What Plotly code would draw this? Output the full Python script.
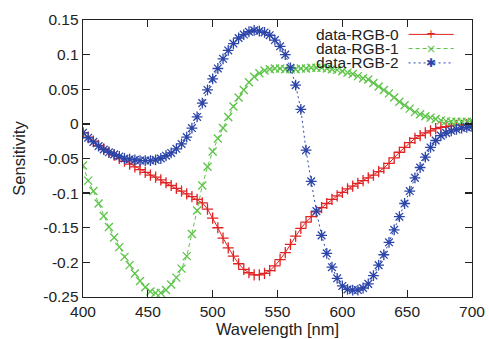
import plotly.graph_objects as go

wavelength = list(range(400, 701, 4))

rgb0 = [-0.013, -0.019, -0.025, -0.031, -0.036, -0.041, -0.045, -0.050, -0.054, -0.058,
        -0.062, -0.066, -0.070, -0.074, -0.077, -0.081, -0.085, -0.089, -0.093, -0.097,
        -0.101, -0.105, -0.109, -0.114, -0.123, -0.136, -0.150, -0.165, -0.179, -0.191,
        -0.202, -0.210, -0.215, -0.218, -0.218, -0.216, -0.212, -0.205, -0.196, -0.186,
        -0.174, -0.162, -0.151, -0.142, -0.134, -0.127, -0.121, -0.115, -0.109, -0.104,
        -0.099, -0.094, -0.090, -0.086, -0.082, -0.078, -0.074, -0.069, -0.064, -0.057,
        -0.049, -0.041, -0.034, -0.027, -0.021, -0.017, -0.013, -0.010, -0.007, -0.005,
        -0.004, -0.003, -0.002, -0.002, -0.001, -0.001]

rgb1 = [-0.060, -0.082, -0.097, -0.115, -0.133, -0.149, -0.164, -0.178, -0.192, -0.204,
        -0.216, -0.227, -0.236, -0.242, -0.244, -0.244, -0.240, -0.232, -0.222, -0.209,
        -0.191, -0.159, -0.125, -0.089, -0.062, -0.040, -0.021, -0.006, 0.010, 0.025,
        0.038, 0.049, 0.060, 0.068, 0.073, 0.077, 0.079, 0.080, 0.080, 0.079,
        0.079, 0.079, 0.080, 0.080, 0.081, 0.081, 0.081, 0.080, 0.079, 0.078,
        0.076, 0.074, 0.072, 0.069, 0.066, 0.064, 0.059, 0.054, 0.049, 0.044,
        0.038, 0.032, 0.027, 0.022, 0.017, 0.014, 0.011, 0.009, 0.007, 0.005,
        0.004, 0.003, 0.003, 0.003, 0.003, 0.003]

rgb2 = [-0.013, -0.020, -0.026, -0.032, -0.037, -0.041, -0.044, -0.047, -0.050, -0.051,
        -0.052, -0.053, -0.053, -0.053, -0.052, -0.050, -0.046, -0.042, -0.036, -0.029,
        -0.019, -0.006, 0.010, 0.030, 0.049, 0.065, 0.080, 0.094, 0.106, 0.116,
        0.124, 0.129, 0.133, 0.135, 0.134, 0.132, 0.128, 0.121, 0.112, 0.100,
        0.081, 0.056, 0.021, -0.038, -0.083, -0.126, -0.161, -0.187, -0.207, -0.223,
        -0.234, -0.239, -0.240, -0.240, -0.237, -0.231, -0.219, -0.204, -0.189, -0.171,
        -0.153, -0.134, -0.115, -0.097, -0.078, -0.063, -0.048, -0.034, -0.024, -0.017,
        -0.013, -0.010, -0.008, -0.006, -0.005, -0.004]

series_names = ["data-RGB-0", "data-RGB-1", "data-RGB-2"]
colors = ["#e02424", "#5cc447", "#2c45a8"]
dashes = ["solid", "4px,3px", "2px,3px"]
symbols = ["cross-thin", "x-thin", "asterisk"]
marker_sizes = [8, 8, 9]
legend_glyphs = ["+", "×", "✱"]

x_ticks = [400, 450, 500, 550, 600, 650, 700]
y_ticks = [0.15, 0.1, 0.05, 0, -0.05, -0.1, -0.15, -0.2, -0.25]
y_tick_text = ["0.15", "0.1", "0.05", "0", "-0.05", "-0.1", "-0.15", "-0.2", "-0.25"]

FONT = "Liberation Sans, Arial, sans-serif"
FS = 15.5
FS_TITLE = 16.5

fig = go.Figure()
for name, vals, c, d, s, ms in zip(series_names, [rgb0, rgb1, rgb2], colors, dashes, symbols, marker_sizes):
    fig.add_trace(go.Scatter(
        x=wavelength, y=vals, name=name, mode="lines+markers",
        line=dict(color=c, width=1, dash=d),
        marker=dict(symbol=s, size=ms, color=c, line=dict(color=c, width=1.3)),
        showlegend=False, hoverinfo="skip",
    ))

# gnuplot-style key: text right-aligned, sample to its right
key_y = [0.948, 0.897, 0.845]
for name, c, d, g, ky in zip(series_names, colors, dashes, legend_glyphs, key_y):
    fig.add_annotation(xref="paper", yref="paper", x=0.818, y=ky, text=name,
                       showarrow=False, xanchor="right", yanchor="middle", height=13,
                       font=dict(family=FONT, size=FS, color="#222"))
    fig.add_shape(type="line", xref="paper", yref="paper", x0=0.837, x1=0.953, y0=ky, y1=ky,
                  line=dict(color=c, width=1, dash=d))
    fig.add_annotation(xref="paper", yref="paper", x=0.895, y=ky, text=g,
                       showarrow=False, xanchor="center", yanchor="middle", height=12,
                       font=dict(family="DejaVu Sans", size=12, color=c))

axis_common = dict(showgrid=False, zeroline=False, showline=True, linecolor="#222",
                   linewidth=1.3, mirror="ticks", ticks="inside", ticklen=7,
                   tickcolor="#222", tickwidth=1.3, automargin=False,
                   tickfont=dict(family=FONT, size=FS, color="#222"))

fig.update_xaxes(range=[400, 700], tickvals=x_ticks,
                 title=dict(text="Wavelength [nm]", font=dict(family=FONT, size=FS_TITLE, color="#222"), standoff=3),
                 **axis_common)
fig.update_yaxes(range=[-0.25, 0.15], tickvals=y_ticks, ticktext=y_tick_text,
                 title=dict(text="Sensitivity", font=dict(family=FONT, size=FS_TITLE, color="#222"), standoff=13),
                 **axis_common)

fig.update_layout(width=489, height=339, margin=dict(l=83, r=17, t=20, b=42),
                  paper_bgcolor="white", plot_bgcolor="white", hovermode=False)

fig.write_html("out.html", config={"displayModeBar": False, "staticPlot": True},
               post_script="document.body.style.margin='0';document.body.style.padding='0';")
